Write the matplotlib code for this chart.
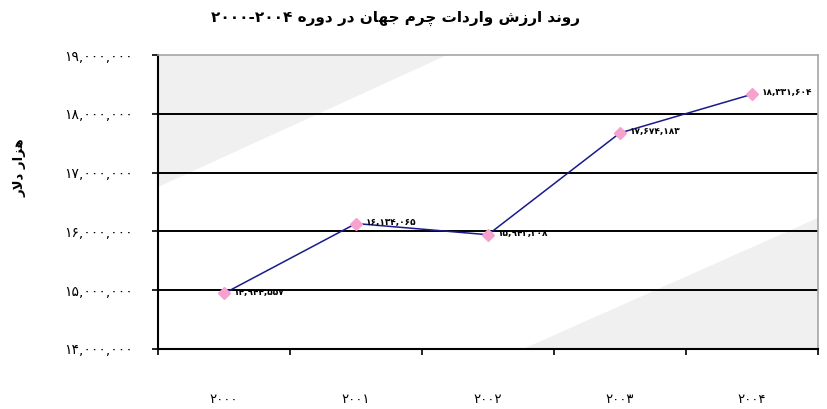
import matplotlib
matplotlib.use("Agg")
import matplotlib.pyplot as plt
from matplotlib.ticker import FuncFormatter
import numpy as np

# Data (thousand USD)
years = ["2000", "2001", "2002", "2003", "2004"]
values = [14944557, 16134065, 15943308, 17674183, 18331604]
y_ticks = [14000000, 15000000, 16000000, 17000000, 18000000, 19000000]
title_words = "روند ارزش واردات چرم جهان در دوره"
title_years = "2000-2004"
ylabel_text = "هزار دلار"

LINE_COLOR = "#1a1a8c"
MARKER_COLOR = "#f7a1cf"
BAND_COLOR = "#f0f0f0"

FA_DIGITS = str.maketrans("0123456789", "۰۱۲۳۴۵۶۷۸۹")

# presentation forms: isolated, final, initial, medial
FORMS = {
    "ا": ("\uFE8D", "\uFE8E", None, None),
    "د": ("\uFEA9", "\uFEAA", None, None),
    "ر": ("\uFEAD", "\uFEAE", None, None),
    "ز": ("\uFEAF", "\uFEB0", None, None),
    "و": ("\uFEED", "\uFEEE", None, None),
    "ن": ("\uFEE5", "\uFEE6", "\uFEE7", "\uFEE8"),
    "ش": ("\uFEB5", "\uFEB6", "\uFEB7", "\uFEB8"),
    "ت": ("\uFE95", "\uFE96", "\uFE97", "\uFE98"),
    "م": ("\uFEE1", "\uFEE2", "\uFEE3", "\uFEE4"),
    "ج": ("\uFE9D", "\uFE9E", "\uFE9F", "\uFEA0"),
    "ه": ("\uFEE9", "\uFEEA", "\uFEEB", "\uFEEC"),
    "ل": ("\uFEDD", "\uFEDE", "\uFEDF", "\uFEE0"),
    "چ": ("\uFB7A", "\uFB7B", "\uFB7C", "\uFB7D"),
    "\uFEFB": ("\uFEFB", "\uFEFC", None, None),  # lam-alef
}


def shape_rtl(text):
    """Minimal Persian shaping + reversal to visual order (matplotlib has no bidi)."""
    chars = list(text.replace("لا", "\uFEFB"))
    out = []
    for i, c in enumerate(chars):
        if c not in FORMS:
            out.append(c)
            continue
        iso, fin, ini, med = FORMS[c]
        prev = chars[i - 1] if i > 0 else None
        nxt = chars[i + 1] if i + 1 < len(chars) else None
        joins_prev = prev in FORMS and FORMS[prev][2] is not None
        joins_next = nxt in FORMS and ini is not None
        if joins_prev and joins_next:
            out.append(med)
        elif joins_prev:
            out.append(fin)
        elif joins_next:
            out.append(ini)
        else:
            out.append(iso)
    return "".join(out)[::-1]


def fa_num(v):
    return f"{int(round(v)):,}".translate(FA_DIGITS)


plt.rcParams.update({
    "font.family": ["DejaVu Sans"],
    "font.size": 9,
})

fig = plt.figure(figsize=(8.28, 4.09), dpi=100)
ax = fig.add_axes([0.1908, 0.1467, 0.797, 0.7188])

# grey diagonal corner bands of the plot area
ax.fill([0, 0.438, 0], [1, 1, 0.551], color=BAND_COLOR, transform=ax.transAxes,
        zorder=0, lw=0)
ax.fill([0.553, 1, 1], [0, 0, 0.446], color=BAND_COLOR, transform=ax.transAxes,
        zorder=0, lw=0)

for yv in y_ticks[1:-1]:
    ax.axhline(yv, color="black", linewidth=1.4, zorder=1)

x = np.arange(len(years))
ax.plot(x, values, color=LINE_COLOR, linewidth=1.1, zorder=3)
ax.plot(x, values, linestyle="none", marker="D", markersize=6,
        markerfacecolor=MARKER_COLOR, markeredgecolor=MARKER_COLOR, zorder=4)
for xi, v in zip(x, values):
    ax.annotate(fa_num(v), (xi, v), xytext=(7, 1), textcoords="offset points",
                ha="left", va="center", fontsize=6.5, fontweight="bold", zorder=5)

ax.set_xlim(-0.5, len(years) - 0.5)
ax.set_ylim(y_ticks[0], y_ticks[-1])

ax.set_yticks(y_ticks)
ax.yaxis.set_major_formatter(FuncFormatter(lambda v, p: fa_num(v)))
ax.tick_params(axis="y", direction="out", length=4, width=1.2, pad=14,
               labelsize=10, colors="black")

ax.set_xticks(np.arange(len(years) + 1) - 0.5)
ax.set_xticklabels([""] * (len(years) + 1))
ax.set_xticks(x, minor=True)
ax.set_xticklabels([y.translate(FA_DIGITS) for y in years], minor=True)
ax.tick_params(axis="x", which="major", direction="out", length=4, width=1.2)
ax.tick_params(axis="x", which="minor", length=0, pad=32, labelsize=9.5)

for side in ("left", "bottom"):
    ax.spines[side].set_color("black")
    ax.spines[side].set_linewidth(1.5)
for side in ("top", "right"):
    ax.spines[side].set_color("#a6a6a6")
    ax.spines[side].set_linewidth(1.2)

fig.text(0.478, 0.955, title_years.translate(FA_DIGITS) + " " + shape_rtl(title_words),
         ha="center", va="center", fontsize=11, fontweight="bold")
fig.text(0.024, 0.59, shape_rtl(ylabel_text), rotation=90, ha="center", va="center",
         fontsize=9.5, fontweight="bold")

fig.savefig("out.png", dpi=100)
